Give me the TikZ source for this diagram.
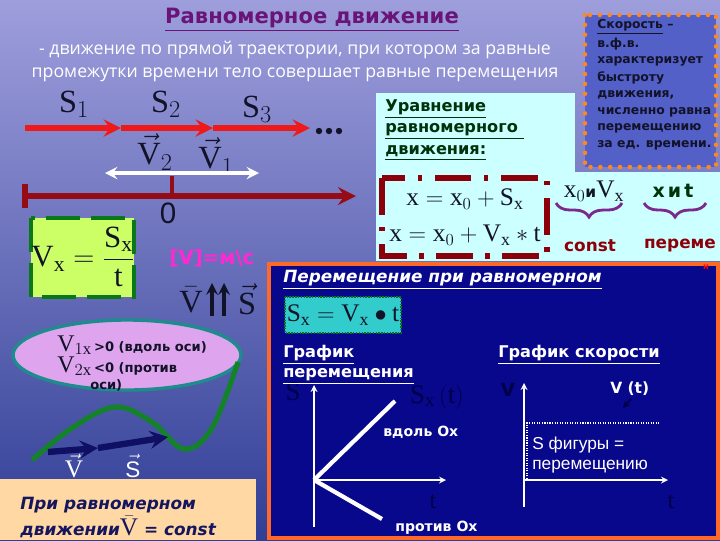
\documentclass[tikz,border=0pt]{standalone}
\usepackage{fontspec}
\usepackage{amsmath}
\setmainfont{Liberation Serif}
\setmathrm{Liberation Serif}
\setmathsf{Liberation Sans}
\newfontfamily\dejavu{DejaVu Sans}
\newfontfamily\opensans{Open Sans}
\newfontfamily\arial{Liberation Sans}
\usetikzlibrary{decorations.pathreplacing}

\definecolor{skytop}{RGB}{158,158,220}
\definecolor{skymid}{RGB}{112,120,202}
\definecolor{skybot}{RGB}{48,62,150}
\definecolor{arrowred}{RGB}{240,25,25}
\definecolor{axisred}{RGB}{150,12,22}
\definecolor{titlepurple}{RGB}{105,20,120}
\definecolor{ink}{RGB}{18,18,40}
\definecolor{limebox}{RGB}{204,255,102}
\definecolor{boxgreen}{RGB}{10,120,25}
\definecolor{curvegreen}{RGB}{20,130,40}
\definecolor{unitpink}{RGB}{255,40,210}
\definecolor{orchid}{RGB}{222,165,238}
\definecolor{tealedge}{RGB}{30,140,140}
\definecolor{navyarrow}{RGB}{15,15,100}
\definecolor{peach}{RGB}{255,216,164}
\definecolor{peachtext}{RGB}{22,22,95}
\definecolor{cyanbox}{RGB}{204,255,255}
\definecolor{headgreen}{RGB}{0,50,10}
\definecolor{eqred}{RGB}{140,0,10}
\definecolor{bracepurple}{RGB}{125,40,140}
\definecolor{speedfill}{RGB}{82,96,200}
\definecolor{dotorange}{RGB}{255,135,30}
\definecolor{panelnavy}{RGB}{8,8,140}
\definecolor{panelorange}{RGB}{255,105,40}
\definecolor{tealfill}{RGB}{51,204,204}
\definecolor{hiddenblue}{RGB}{0,0,70}

\tikzset{
  redarrow/.style={-stealth, draw=arrowred, line width=4.3pt},
  bigserif/.style={font=\fontsize{23}{23}\selectfont, text=ink},
  speedtext/.style={anchor=west, text=ink, font=\dejavu\bfseries\fontsize{8.8}{8.8}\selectfont},
  headline/.style={anchor=west, text=white, font=\dejavu\bfseries\fontsize{11.5}{11.5}\selectfont},
  graphlbl/.style={anchor=west, text=white, font=\dejavu\bfseries\fontsize{10}{10}\selectfont},
  hiddenlbl/.style={text=hiddenblue, font=\fontsize{19}{19}\selectfont},
  axisline/.style={-stealth, white, line width=1.2pt},
  bracelbl/.style={decorate, decoration={brace, mirror, amplitude=10pt}, draw=bracepurple, line width=2pt},
}

\begin{document}
\begin{tikzpicture}[x=0.025cm, y=-0.025cm, every node/.style={inner sep=0pt}]
\useasboundingbox (0,0) rectangle (720,540);
\shade[top color=skytop, middle color=skymid, bottom color=skybot] (0,0) rectangle (720,540);

% title and definition
\node[font=\dejavu\bfseries\fontsize{15}{15}\selectfont, text=titlepurple] (title) at (312,20) {\underline{Равномерное движение}};
\node[font=\opensans\fontsize{12.6}{16.4}\selectfont, text=white, align=center] (defn) at (295,61)
  {- движение по прямой траектории, при котором за равные\\промежутки времени тело совершает равные перемещения};

% displacements
\coordinate (a0) at (25,128);
\coordinate (a1) at (121,128);
\coordinate (a2) at (213,128);
\coordinate (a3) at (310,128);
\draw[redarrow] (a0) -- (a1);
\draw[redarrow] (a1) -- (a2);
\draw[redarrow] (a2) -- (a3);
\foreach \dx in {319,329,339}
  \fill[ink] (\dx,131) circle (3.2);
\node[bigserif] (s1) at (74,104) {$\mathrm{S}_1$};
\node[bigserif] (s2) at (166,104) {$\mathrm{S}_2$};
\node[bigserif] (s3) at (257,109) {$\mathrm{S}_3$};
\node[bigserif] (v2) at (155,152) {$\vec{\mathrm{V}}_2$};
\node[bigserif] (v1) at (216,156) {$\vec{\mathrm{V}}_1$};

% axis
\coordinate (w0) at (105,173);
\coordinate (w1) at (259,173);
\draw[stealth-stealth, white, line width=2.8pt] (w0) -- (w1);
\coordinate (ax0) at (25,196);
\coordinate (ax1) at (356,196);
\draw[-stealth, axisred, line width=4.5pt] (ax0) -- (ax1);
\draw[axisred, line width=3.6pt] (25,184) -- (25,208);
\draw[axisred, line width=3.2pt] (172,176) -- (172,196);
\node[font=\arial\fontsize{21}{21}\selectfont, text=ink] (zero) at (168,213) {0};

% speed formula
\filldraw[fill=limebox, draw=boxgreen, line width=3pt, dash pattern=on 24pt off 8pt] (31,218) rectangle (134,297);
\node[font=\fontsize{22}{22}\selectfont, text=ink] (vform) at (83,257) {$\mathrm{V}_{\mathrm{x}}=\dfrac{\mathrm{S}_{\mathrm{x}}}{\mathrm{t}}$};
\node[font=\dejavu\bfseries\fontsize{14}{14}\selectfont, text=unitpink] (unit) at (212,258) {[V]=м\textbackslash с};
\node[bigserif] (vbar) at (191,300) {$\bar{\mathrm{V}}$};
\coordinate (u0) at (212,316);
\coordinate (u1) at (212,283);
\coordinate (u2) at (224,316);
\coordinate (u3) at (224,283);
\draw[-stealth, ink, line width=2.6pt] (u0) -- (u1);
\draw[-stealth, ink, line width=2.6pt] (u2) -- (u3);
\node[bigserif] (svec) at (247,299) {$\vec{\mathrm{S}}$};

% signs of projection
\filldraw[fill=orchid, draw=tealedge, line width=2.4pt] (127,355) ellipse [x radius=114, y radius=35];
\node[anchor=west, text=ink] (v1x) at (57,345) {{\fontsize{17}{17}\selectfont$\mathrm{V}_{1\mathrm{x}}$}{\dejavu\bfseries\fontsize{9.3}{9.3}\selectfont\,>0 (вдоль оси)}};
\node[anchor=west, text=ink] (v2x) at (57,366) {{\fontsize{17}{17}\selectfont$\mathrm{V}_{2\mathrm{x}}$}{\dejavu\bfseries\fontsize{9.3}{9.3}\selectfont\,<0 (против}};
\node[anchor=west, text=ink, font=\dejavu\bfseries\fontsize{9.3}{9.3}\selectfont] (axis2) at (90,385) {оси)};
\draw[curvegreen, line width=3.6pt] plot[smooth, tension=0.6] coordinates {(32,460) (72,428) (115,407) (152,422) (184,449) (212,428) (238,362)};
\coordinate (n0) at (48,452);
\coordinate (n1) at (98,448);
\coordinate (n2) at (168,437);
\draw[-stealth, navyarrow, line width=4.5pt] (n0) -- (n1);
\draw[-stealth, navyarrow, line width=4.5pt] (n1) -- (n2);
\node[text=white, font=\fontsize{18}{18}\selectfont] (vlbl) at (74,466) {$\vec{\mathrm{V}}$};
\node[text=white, font=\fontsize{16}{16}\selectfont] (slbl) at (133,466) {$\vec{\mathsf{S}}$};

% uniform motion note
\fill[peach] (0,479) rectangle (256,540);
\node[anchor=west, text=peachtext, font=\dejavu\bfseries\itshape\fontsize{12}{12}\selectfont] (note1) at (20,505) {При равномерном};
\node[anchor=west, text=peachtext, font=\dejavu\bfseries\itshape\fontsize{12}{12}\selectfont] (note2) at (20,527) {движении{\upshape\mdseries\fontsize{18}{18}\selectfont$\bar{\mathrm{V}}$} = const};

% equation of motion
\fill[cyanbox] (376,93) rectangle (575,173);
\fill[cyanbox] (376,172) rectangle (720,261);
\node[anchor=west, text=headgreen, font=\dejavu\bfseries\fontsize{11.5}{11.5}\selectfont] (eqh1) at (385,109) {\underline{Уравнение}};
\node[anchor=west, text=headgreen, font=\dejavu\bfseries\fontsize{11.5}{11.5}\selectfont] (eqh2) at (385,131) {\underline{равномерного }};
\node[anchor=west, text=headgreen, font=\dejavu\bfseries\fontsize{11.5}{11.5}\selectfont] (eqh3) at (385,153) {\underline{движения:}};
\draw[eqred, line width=3.6pt, dash pattern=on 26pt off 9pt on 3pt off 9pt] (382,178) rectangle (547,256);
\node[font=\fontsize{18}{18}\selectfont, text=ink] (eq1) at (465,199) {$\mathrm{x}=\mathrm{x}_0+\mathrm{S}_{\mathrm{x}}$};
\node[font=\fontsize{18}{18}\selectfont, text=ink] (eq2) at (465,235) {$\mathrm{x}=\mathrm{x}_0+\mathrm{V}_{\mathrm{x}}*\mathrm{t}$};
\node[text=ink] (consts) at (594,191) {{\fontsize{18}{18}\selectfont$\mathrm{x}_0$}{\dejavu\bfseries\fontsize{11}{11}\selectfont и}{\fontsize{18}{18}\selectfont$\mathrm{V}_{\mathrm{x}}$}};
\draw[bracelbl] (556,203) -- (622,203);
\node[text=eqred, font=\dejavu\bfseries\fontsize{12}{12}\selectfont] (constlbl) at (590,246) {const};
\node[text=headgreen, font=\dejavu\bfseries\fontsize{13.5}{13.5}\selectfont] (vars) at (673,191) {x\,и\,t};
\draw[bracelbl] (644,203) -- (706,203);
\node[text=eqred, font=\dejavu\bfseries\fontsize{12}{12}\selectfont] (varlbl) at (680,246) {переме};

% speed definition
\filldraw[fill=speedfill, draw=dotorange, line width=3.2pt, line cap=round, dash pattern=on 0pt off 7pt] (585,15) rectangle (716,167);
\node[speedtext] (sp1) at (597,27) {\underline{Скорость} –};
\node[speedtext] (sp2) at (597,44) {в.ф.в.};
\node[speedtext] (sp3) at (597,61) {характеризует};
\node[speedtext] (sp4) at (597,78) {быстроту};
\node[speedtext] (sp5) at (597,95) {движения,};
\node[speedtext] (sp6) at (597,112) {численно равна};
\node[speedtext] (sp7) at (597,128) {перемещению};
\node[speedtext] (sp8) at (597,145) {за ед. времени.};

% graphs
\filldraw[fill=panelnavy, draw=panelorange, line width=2.6pt] (269,264) rectangle (718,538);
\node[text=red, font=\dejavu\bfseries\fontsize{6}{6}\selectfont] (cut) at (706,267) {н};
\node[anchor=west, text=white, font=\dejavu\bfseries\itshape\fontsize{12}{12}\selectfont] (panelh) at (283,280) {\underline{Перемещение при равномерном}};
\filldraw[fill=tealfill, draw=boxgreen, densely dotted, line width=1pt] (285,297) rectangle (401,333);
\node[font=\fontsize{18}{18}\selectfont, text=ink] (sform) at (343,315) {$\mathrm{S}_{\mathrm{x}}=\mathrm{V}_{\mathrm{x}}\bullet\mathrm{t}$};
\node[hiddenlbl] (sax) at (293,392) {S};
\node[hiddenlbl] (sxt) at (437,397) {$\mathrm{S}_{\mathrm{x}}\,(\mathrm{t})$};
\node[headline] (gh1) at (283,355) {\underline{График}};
\node[headline] (gh2) at (283,376) {\underline{перемещения}};
\node[headline] (gh3) at (498,355) {\underline{График скорости}};
\coordinate (o1) at (314,480);
\coordinate (o1y) at (314,385);
\coordinate (o1b) at (314,527);
\coordinate (o1x) at (446,480);
\draw[axisline] (o1b) -- (o1y);
\draw[axisline] (o1) -- (o1x);
\coordinate (along) at (395,401);
\coordinate (against) at (382,519);
\draw[white, line width=3pt] (o1) -- (along);
\draw[white, line width=3pt] (o1) -- (against);
\node[graphlbl] (lbl1) at (383,432) {вдоль Ох};
\node[graphlbl] (lbl2) at (395,528) {против Ох};
\node[hiddenlbl, font=\fontsize{17}{17}\selectfont] (t1) at (433,502) {t};
\coordinate (o2) at (524,480);
\coordinate (o2y) at (524,383);
\coordinate (o2b) at (524,507);
\coordinate (o2x) at (668,480);
\draw[axisline] (o2b) -- (o2y);
\draw[axisline] (o2) -- (o2x);
\node[hiddenlbl, font=\dejavu\bfseries\fontsize{13}{13}\selectfont] (vax) at (508,390) {V};
\node[graphlbl, font=\dejavu\bfseries\fontsize{11}{11}\selectfont] (vt) at (610,389) {V (t)};
\draw[-stealth, hiddenblue, line width=1.2pt] (631,399) -- (623,408);
\draw[white, densely dotted, line width=0.8pt] (527,479) -- (527,423) -- (660,423);
\node[anchor=west, text=white, font=\arial\fontsize{12.3}{12.3}\selectfont] (area1) at (532,445) {S фигуры =};
\node[anchor=west, text=white, font=\arial\fontsize{12.3}{12.3}\selectfont] (area2) at (532,467) {перемещению};
\node[hiddenlbl, font=\fontsize{17}{17}\selectfont] (t2) at (671,502) {t};
\end{tikzpicture}
\end{document}
